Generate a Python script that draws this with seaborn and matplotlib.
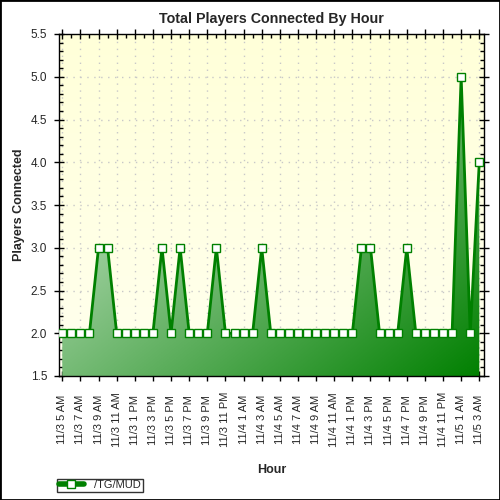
import numpy as np
import pandas as pd
import matplotlib; matplotlib.use("Agg"); import matplotlib.pyplot as plt
import seaborn as sns
from matplotlib.patches import Polygon, Rectangle
from matplotlib.lines import Line2D
from matplotlib.ticker import MultipleLocator

# hourly samples, 11/3 5 AM .. 11/5 3 AM
start_hour = "2023-11-03 05:00"
players = [2, 2, 2, 2, 3, 3, 2, 2, 2, 2, 2, 3, 2, 3, 2, 2, 2, 3, 2, 2, 2, 2, 3, 2,
           2, 2, 2, 2, 2, 2, 2, 2, 2, 3, 3, 2, 2, 2, 3, 2, 2, 2, 2, 2, 5, 2, 4]
series_name = "/TG/MUD"

hours = pd.date_range(start_hour, periods=len(players), freq="h")
tick_labels = [f"{h.month}/{h.day} {(h.hour % 12) or 12} {'AM' if h.hour < 12 else 'PM'}"
               for h in hours][::2]

df = pd.DataFrame({"idx": np.arange(len(players)), "players": players})

GREEN = "#008000"
sns.set_style("white")
plt.rcParams["font.family"] = ["Liberation Sans", "DejaVu Sans"]

fig = plt.figure(figsize=(5, 5), dpi=100)
ax = fig.add_axes([0.118, 0.248, 0.85, 0.684])

ymin, ymax = 1.5, 5.5
xmin, xmax = -0.36, len(players) - 1 + 0.52
ax.set_xlim(xmin, xmax); ax.set_ylim(ymin, ymax)

# background gradient (pale yellow, yellower towards the top)
n = 200
u = np.linspace(0, 1, n)[None, :]
v = np.linspace(1, 0, n)[:, None]
tb = 0.35 + 0.65 * v * np.ones_like(u)
c0 = np.array([1.0, 1.0, 0.98]); c1 = np.array([1.0, 1.0, 0.85])
bg = c0 * (1 - tb[..., None]) + c1 * tb[..., None]
ax.imshow(bg, extent=[0, 1, 0, 1], transform=ax.transAxes, aspect="auto", zorder=0)

# gradient fill under the line (light top-left -> dark green bottom-right)
t = (u + (1 - v)) / 2 * np.ones((n, n))
w = np.array([0.93, 0.97, 0.93]); g = np.array([0.0, 0.5, 0.0])
fillimg = w * (1 - t[..., None]) + g * t[..., None]
im = ax.imshow(fillimg, extent=[xmin, xmax, ymin, ymax], aspect="auto", zorder=1)
verts = [(df.idx.iloc[0], ymin)] + list(zip(df.idx, df.players)) + [(df.idx.iloc[-1], ymin)]
poly = Polygon(verts, closed=True, transform=ax.transData, fc="none", ec="none")
ax.add_patch(poly)
im.set_clip_path(poly)

sns.lineplot(data=df, x="idx", y="players", ax=ax, color=GREEN, lw=2.0, marker="s",
             markersize=5.5, markerfacecolor="white", markeredgecolor=GREEN,
             markeredgewidth=1.0, zorder=3)
ax.set_xlim(xmin, xmax); ax.set_ylim(ymin, ymax)

ax.set_xticks(np.arange(0, len(players), 2))
ax.set_xticklabels(tick_labels, rotation=90, fontsize=8)
for lab in ax.get_xticklabels():
    lab.set_va("center")
ax.xaxis.set_minor_locator(MultipleLocator(1))
ax.yaxis.set_major_locator(MultipleLocator(0.5))
ax.yaxis.set_minor_locator(MultipleLocator(0.1))
ax.yaxis.set_major_formatter(lambda val, pos: f"{val:.1f}")
ax.tick_params(axis="y", labelsize=8.5)
ax.tick_params(which="major", direction="inout", length=7, width=1, color="black",
               top=True, right=True, bottom=True, left=True)
ax.tick_params(which="minor", direction="in", length=3, width=1, color="black",
               top=True, right=True, bottom=True, left=True)
ax.tick_params(axis="x", which="major", pad=28)
ax.tick_params(axis="y", which="major", pad=5)

ax.set_axisbelow(True)
ax.grid(True, which="major", color="#c8c8c8", linestyle=(0, (1, 4)), linewidth=1)
for s in ax.spines.values():
    s.set_color("black"); s.set_linewidth(1)

ax.set_title("Total Players Connected By Hour", fontsize=10.3, fontweight="bold", pad=8)
ax.set_ylabel("Players Connected", fontsize=9, fontweight="bold")
ax.yaxis.set_label_coords(-0.079, 0.5)
ax.set_xlabel("Hour", fontsize=9, fontweight="bold")
ax.xaxis.set_label_coords(0.5, -0.257)

handle = Line2D([], [], color=GREEN, lw=4, marker="s", markersize=5.5,
                markerfacecolor="white", markeredgecolor=GREEN)
leg = fig.legend([handle], [series_name], loc="lower left", bbox_to_anchor=(0.114, 0.016),
                 fontsize=8, frameon=True, fancybox=False, handlelength=2.3,
                 borderpad=0.15, handletextpad=0.9, borderaxespad=0)
leg.get_frame().set_edgecolor("black"); leg.get_frame().set_linewidth(1)

fig.patches.append(Rectangle((0, 0), 1, 1, transform=fig.transFigure, fill=False,
                             ec="black", lw=2))
fig.savefig("out.png", dpi=100)
